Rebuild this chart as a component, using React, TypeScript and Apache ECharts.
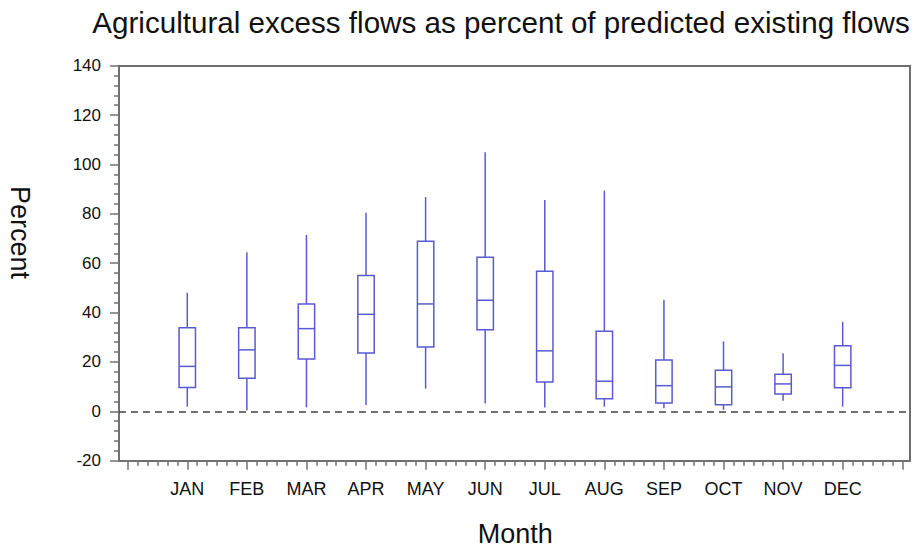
import React, { useEffect, useRef } from 'react';
import * as echarts from 'echarts';

const months = ['JAN', 'FEB', 'MAR', 'APR', 'MAY', 'JUN', 'JUL', 'AUG', 'SEP', 'OCT', 'NOV', 'DEC'];
const monthPositions = [1, 2, 3, 4, 5, 6, 7, 8, 9, 10, 11, 12];
const whiskerLow = [1.9, 0.3, 1.6, 2.6, 9.2, 3.2, 1.6, 1.9, 1.2, 0.6, 4.3, 1.9];
const quartile1 = [9.7, 13.4, 21.2, 23.6, 26.1, 33.0, 11.9, 5.1, 3.4, 2.7, 7.0, 9.5];
const medians = [18.2, 24.9, 33.5, 39.3, 43.5, 45.0, 24.5, 12.2, 10.4, 9.9, 11.1, 18.6];
const quartile3 = [33.9, 33.9, 43.5, 55.0, 68.9, 62.4, 56.7, 32.4, 20.8, 16.6, 15.0, 26.6];
const whiskerHigh = [48.0, 64.4, 71.4, 80.4, 86.8, 104.9, 85.6, 89.4, 45.2, 28.3, 23.5, 36.3];

const majorXTicks = [0, 1, 2, 3, 4, 5, 6, 7, 8, 9, 10, 11, 12, 13];
const minorXTicks: number[] = [];
for (let k = 1; k < 78; k++) {
  if (k % 6 !== 0) minorXTicks.push(k / 6);
}

const X_MIN = -0.146;
const X_MAX = 13.13;
const BOX_COLOR = '#5a5ad2';
const AXIS_COLOR = '#707070';
const TEXT_COLOR = '#111111';
const FONT = '"Liberation Sans", Arial, Helvetica, sans-serif';

export default function App() {
  const ref = useRef<HTMLDivElement>(null);

  useEffect(() => {
    if (!ref.current) return;
    const chart = echarts.init(ref.current, undefined, { renderer: 'svg' });

    const boxData = monthPositions.map((m, i) => [
      m,
      whiskerLow[i],
      quartile1[i],
      medians[i],
      quartile3[i],
      whiskerHigh[i],
    ]);

    const option: any = {
      animation: false,
      backgroundColor: '#ffffff',
      textStyle: { fontFamily: FONT },
      grid: {
        left: 119,
        right: 6,
        top: 65.7,
        bottom: 87.3,
        containLabel: false,
        outerBoundsMode: 'none',
      },
      xAxis: [
        {
          type: 'value',
          position: 'bottom',
          min: X_MIN,
          max: X_MAX,
          splitLine: { show: false },
          axisLine: { show: true, onZero: false, lineStyle: { color: AXIS_COLOR, width: 2 } },
          axisTick: {
            show: true,
            customValues: majorXTicks,
            length: 9,
            lineStyle: { color: AXIS_COLOR, width: 1.5 },
          },
          axisLabel: {
            show: true,
            customValues: monthPositions,
            formatter: (v: number) => months[Math.round(v) - 1] ?? '',
            color: TEXT_COLOR,
            fontSize: 18,
            fontFamily: FONT,
            margin: 19,
          },
        },
        {
          type: 'value',
          position: 'bottom',
          min: X_MIN,
          max: X_MAX,
          splitLine: { show: false },
          axisLine: { show: false, onZero: false },
          axisTick: {
            show: true,
            customValues: minorXTicks,
            length: 5,
            lineStyle: { color: AXIS_COLOR, width: 1.5 },
          },
          axisLabel: { show: false },
        },
        {
          type: 'value',
          position: 'top',
          min: X_MIN,
          max: X_MAX,
          splitLine: { show: false },
          axisLine: { show: true, onZero: false, lineStyle: { color: AXIS_COLOR, width: 2 } },
          axisTick: { show: false },
          axisLabel: { show: false },
        },
      ],
      yAxis: [
        {
          type: 'value',
          position: 'left',
          min: -20,
          max: 140,
          interval: 20,
          splitLine: { show: false },
          axisLine: { show: true, onZero: false, lineStyle: { color: AXIS_COLOR, width: 2 } },
          axisTick: { show: true, length: 9, lineStyle: { color: AXIS_COLOR, width: 1.5 } },
          minorTick: { show: true, splitNumber: 5, length: 5, lineStyle: { color: AXIS_COLOR, width: 1.5 } },
          minorSplitLine: { show: false },
          axisLabel: { color: TEXT_COLOR, fontSize: 17, fontFamily: FONT, margin: 18 },
        },
        {
          type: 'value',
          position: 'right',
          min: -20,
          max: 140,
          interval: 20,
          splitLine: { show: false },
          axisLine: { show: true, onZero: false, lineStyle: { color: AXIS_COLOR, width: 2 } },
          axisTick: { show: false },
          axisLabel: { show: false },
        },
      ],
      title: {
        text: 'Agricultural excess flows as percent of predicted existing flows',
        left: 496,
        top: 2.4,
        textAlign: 'center',
        textStyle: { fontSize: 29.6, fontWeight: 'normal', color: TEXT_COLOR, fontFamily: FONT },
      },
      graphic: [
        {
          type: 'text',
          x: 19.5,
          y: 232.5,
          rotation: -Math.PI / 2,
          style: {
            text: 'Percent',
            fill: TEXT_COLOR,
            font: `27px ${FONT}`,
            textAlign: 'center',
            textVerticalAlign: 'middle',
          },
        },
        {
          type: 'text',
          x: 515.3,
          y: 533.5,
          style: {
            text: 'Month',
            fill: TEXT_COLOR,
            font: `27px ${FONT}`,
            textAlign: 'center',
            textVerticalAlign: 'middle',
          },
        },
      ],
      series: [
        {
          type: 'custom',
          name: 'Monthly distribution',
          xAxisIndex: 0,
          yAxisIndex: 0,
          data: boxData,
          encode: { x: 0, y: [1, 2, 3, 4, 5] },
          renderItem: (params: any, api: any) => {
            const x = api.value(0);
            const pLow = api.coord([x, api.value(1)]);
            const pQ1 = api.coord([x, api.value(2)]);
            const pMed = api.coord([x, api.value(3)]);
            const pQ3 = api.coord([x, api.value(4)]);
            const pHigh = api.coord([x, api.value(5)]);
            const half = 8.2;
            const style = { stroke: BOX_COLOR, lineWidth: 1.5, fill: 'none' };
            return {
              type: 'group',
              children: [
                { type: 'line', shape: { x1: pHigh[0], y1: pHigh[1], x2: pQ3[0], y2: pQ3[1] }, style },
                { type: 'line', shape: { x1: pQ1[0], y1: pQ1[1], x2: pLow[0], y2: pLow[1] }, style },
                {
                  type: 'rect',
                  shape: { x: pQ3[0] - half, y: pQ3[1], width: half * 2, height: pQ1[1] - pQ3[1] },
                  style,
                },
                {
                  type: 'line',
                  shape: { x1: pMed[0] - half, y1: pMed[1], x2: pMed[0] + half, y2: pMed[1] },
                  style,
                },
              ],
            };
          },
          markLine: {
            silent: true,
            symbol: 'none',
            label: { show: false },
            lineStyle: { type: [7, 5], color: '#444444', width: 1.5 },
            data: [{ yAxis: 0 }],
          },
          z: 3,
        },
      ],
    };

    chart.setOption(option);
    return () => {
      chart.dispose();
    };
  }, []);

  return (
    <div
      ref={ref}
      style={{ position: 'fixed', left: 0, top: 0, width: 916, height: 548, background: '#fff' }}
    />
  );
}
